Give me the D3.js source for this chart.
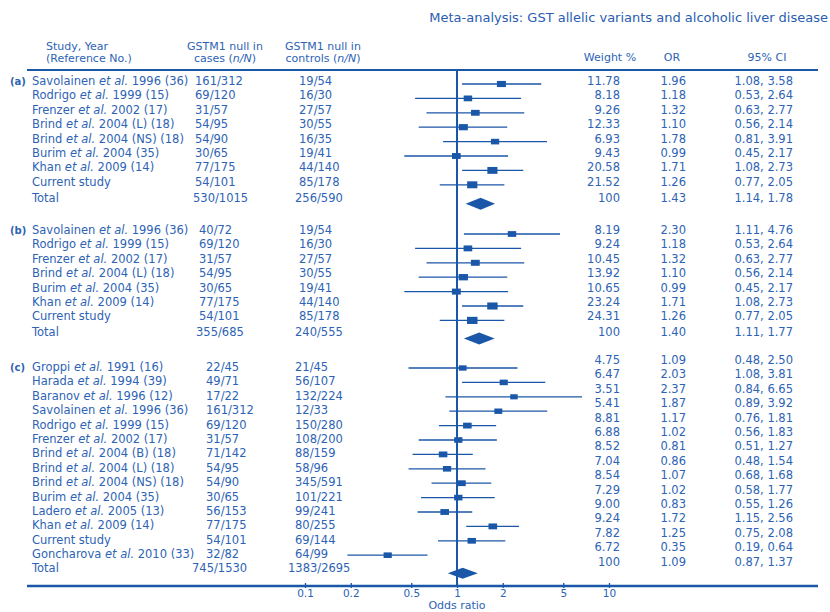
<!DOCTYPE html>
<html lang="en">
<head>
<meta charset="utf-8">
<title>Meta-analysis forest plot</title>
<style>
    body { margin: 0; background: #fff; }
    text { font-family: "DejaVu Sans", sans-serif; fill: #2d63b5; }
</style>
</head>
<body>
<div id="chart"></div>
<script src="https://d3js.org/d3.v7.min.js"></script>
<script>
// ---- data (a) ----
const studiesA = ["Savolainen et al. 1996 (36)", "Rodrigo et al. 1999 (15)", "Frenzer et al. 2002 (17)",
    "Brind et al. 2004 (L) (18)", "Brind et al. 2004 (NS) (18)", "Burim et al. 2004 (35)",
    "Khan et al. 2009 (14)", "Current study"]
const casesA = ["161/312", "69/120", "31/57", "54/95", "54/90", "30/65", "77/175", "54/101"]
const controlsA = ["19/54", "16/30", "27/57", "30/55", "16/35", "19/41", "44/140", "85/178"]
const weightA = [11.78, 8.18, 9.26, 12.33, 6.93, 9.43, 20.58, 21.52]
const orA = [1.96, 1.18, 1.32, 1.10, 1.78, 0.99, 1.71, 1.26]
const lowA = [1.08, 0.53, 0.63, 0.56, 0.81, 0.45, 1.08, 0.77]
const highA = [3.58, 2.64, 2.77, 2.14, 3.91, 2.17, 2.73, 2.05]
const totalA = ["530/1015", "256/590", 100, 1.43, 1.14, 1.78]

// ---- data (b) ----
const studiesB = ["Savolainen et al. 1996 (36)", "Rodrigo et al. 1999 (15)", "Frenzer et al. 2002 (17)",
    "Brind et al. 2004 (L) (18)", "Burim et al. 2004 (35)", "Khan et al. 2009 (14)", "Current study"]
const casesB = ["40/72", "69/120", "31/57", "54/95", "30/65", "77/175", "54/101"]
const controlsB = ["19/54", "16/30", "27/57", "30/55", "19/41", "44/140", "85/178"]
const weightB = [8.19, 9.24, 10.45, 13.92, 10.65, 23.24, 24.31]
const orB = [2.30, 1.18, 1.32, 1.10, 0.99, 1.71, 1.26]
const lowB = [1.11, 0.53, 0.63, 0.56, 0.45, 1.08, 0.77]
const highB = [4.76, 2.64, 2.77, 2.14, 2.17, 2.73, 2.05]
const totalB = ["355/685", "240/555", 100, 1.40, 1.11, 1.77]

// ---- data (c) ----
const studiesC = ["Groppi et al. 1991 (16)", "Harada et al. 1994 (39)", "Baranov et al. 1996 (12)",
    "Savolainen et al. 1996 (36)", "Rodrigo et al. 1999 (15)", "Frenzer et al. 2002 (17)",
    "Brind et al. 2004 (B) (18)", "Brind et al. 2004 (L) (18)", "Brind et al. 2004 (NS) (18)",
    "Burim et al. 2004 (35)", "Ladero et al. 2005 (13)", "Khan et al. 2009 (14)", "Current study",
    "Goncharova et al. 2010 (33)"]
const casesC = ["22/45", "49/71", "17/22", "161/312", "69/120", "31/57", "71/142", "54/95", "54/90",
    "30/65", "56/153", "77/175", "54/101", "32/82"]
const controlsC = ["21/45", "56/107", "132/224", "12/33", "150/280", "108/200", "88/159", "58/96",
    "345/591", "101/221", "99/241", "80/255", "69/144", "64/99"]
const weightC = [4.75, 6.47, 3.51, 5.41, 8.81, 6.88, 8.52, 7.04, 8.54, 7.29, 9.00, 9.24, 7.82, 6.72]
const orC = [1.09, 2.03, 2.37, 1.87, 1.17, 1.02, 0.81, 0.86, 1.07, 1.02, 0.83, 1.72, 1.25, 0.35]
const lowC = [0.48, 1.08, 0.84, 0.89, 0.76, 0.56, 0.51, 0.48, 0.68, 0.58, 0.55, 1.15, 0.75, 0.19]
const highC = [2.50, 3.81, 6.65, 3.92, 1.81, 1.83, 1.27, 1.54, 1.68, 1.77, 1.26, 2.56, 2.08, 0.64]
const totalC = ["745/1530", "1383/2695", 100, 1.09, 0.87, 1.37]

const axisTicks = [0.1, 0.2, 0.5, 1, 2, 5, 10]

// layout per section (pixel positions, not data)
const sections = [
    { label: "(a)", studies: studiesA, cases: casesA, controls: controlsA, weight: weightA, or: orA, low: lowA, high: highA, total: totalA,
      top: 84, gap: 19, dyL: -3, dyR: -3, dyTL: -6, dyTR: -6, casesX: 195, ctrlX: 299, totCasesX: 193, totCtrlX: 295, dh: 12 },
    { label: "(b)", studies: studiesB, cases: casesB, controls: controlsB, weight: weightB, or: orB, low: lowB, high: highB, total: totalB,
      top: 234, gap: 18, dyL: -4, dyR: -4, dyTL: -6, dyTR: -6, casesX: 199, ctrlX: 299, totCasesX: 196, totCtrlX: 295, dh: 12 },
    { label: "(c)", studies: studiesC, cases: casesC, controls: controlsC, weight: weightC, or: orC, low: lowC, high: highC, total: totalC,
      top: 368, gap: 18, dyL: -1, dyR: -8, dyTL: -5, dyTR: -11, casesX: 206, ctrlX: 295, totCasesX: 192, totCtrlX: 288, dh: 11 }
]

const width = 830, height = 612
const rowStep = 14.4
const markColor = "#1b57a9"
const textColor = "#2d63b5"

const svg = d3.select("#chart").append("svg")
    .attr("width", width)
    .attr("height", height)

const x = d3.scaleLog().domain([0.1, 10]).range([305, 609])
const boxW = d3.scaleSqrt().domain([3.5, 24.3]).range([7.5, 10.5])

// title
svg.append("text")
    .attr("x", 828).attr("y", 17).attr("dy", "0.35em")
    .attr("text-anchor", "end")
    .style("font-size", "13px")
    .style("fill", "#2a5db0")
    .text("Meta-analysis: GST allelic variants and alcoholic liver disease")

// column headers
const hdr = svg.append("g").style("font-size", "11px")
hdr.append("text").attr("x", 46).attr("y", 46).attr("dy", "0.35em").text("Study, Year")
hdr.append("text").attr("x", 46).attr("y", 58).attr("dy", "0.35em").text("(Reference No.)")
hdr.append("text").attr("x", 225).attr("y", 46).attr("dy", "0.35em").attr("text-anchor", "middle").text("GSTM1 null in")
const hc = hdr.append("text").attr("x", 225).attr("y", 58).attr("dy", "0.35em").attr("text-anchor", "middle")
hc.append("tspan").text("cases (")
hc.append("tspan").style("font-style", "italic").text("n/N")
hc.append("tspan").text(")")
hdr.append("text").attr("x", 323).attr("y", 46).attr("dy", "0.35em").attr("text-anchor", "middle").text("GSTM1 null in")
const hk = hdr.append("text").attr("x", 323).attr("y", 58).attr("dy", "0.35em").attr("text-anchor", "middle")
hk.append("tspan").text("controls (")
hk.append("tspan").style("font-style", "italic").text("n/N")
hk.append("tspan").text(")")
hdr.append("text").attr("x", 610).attr("y", 57).attr("dy", "0.35em").attr("text-anchor", "middle").text("Weight %")
hdr.append("text").attr("x", 672).attr("y", 57).attr("dy", "0.35em").attr("text-anchor", "middle").text("OR")
hdr.append("text").attr("x", 767).attr("y", 57).attr("dy", "0.35em").attr("text-anchor", "middle").text("95% CI")

// header rule, reference line
svg.append("line").attr("x1", 27).attr("x2", 818).attr("y1", 70).attr("y2", 70)
    .attr("stroke", markColor).attr("stroke-width", 2)
svg.append("line").attr("x1", x(1)).attr("x2", x(1)).attr("y1", 70).attr("y2", 586)
    .attr("stroke", markColor).attr("stroke-width", 2)

// study name with italic "et al."
function nameText(sel, name) {
    const parts = name.split("et al.")
    sel.append("tspan").text(parts[0])
    if (parts.length > 1) {
        sel.append("tspan").style("font-style", "italic").text("et al.")
        sel.append("tspan").text(parts[1])
    }
}

const fmt2 = d3.format(".2f")

sections.forEach(s => {
    const g = svg.append("g").style("font-size", "11.5px")
    const rowY = i => s.top + i * rowStep
    const totY = rowY(s.studies.length - 1) + s.gap

    g.append("text")
        .attr("x", 10).attr("y", rowY(0) + s.dyL).attr("dy", "0.35em")
        .style("font-size", "10px").style("font-weight", "bold")
        .text(s.label)

    s.studies.forEach((name, i) => {
        const y = rowY(i)
        nameText(g.append("text").attr("x", 32).attr("y", y + s.dyL).attr("dy", "0.35em"), name)
        g.append("text").attr("x", s.casesX).attr("y", y + s.dyL).attr("dy", "0.35em").text(s.cases[i])
        g.append("text").attr("x", s.ctrlX).attr("y", y + s.dyL).attr("dy", "0.35em").text(s.controls[i])

        g.append("text").attr("x", 620).attr("y", y + s.dyR).attr("dy", "0.35em").attr("text-anchor", "end").text(fmt2(s.weight[i]))
        g.append("text").attr("x", 686).attr("y", y + s.dyR).attr("dy", "0.35em").attr("text-anchor", "end").text(fmt2(s.or[i]))
        g.append("text").attr("x", 793).attr("y", y + s.dyR).attr("dy", "0.35em").attr("text-anchor", "end")
            .text(fmt2(s.low[i]) + ", " + fmt2(s.high[i]))

        g.append("line")
            .attr("x1", x(s.low[i])).attr("x2", x(s.high[i]))
            .attr("y1", y).attr("y2", y)
            .attr("stroke", markColor).attr("stroke-width", 1.3)
        const w = boxW(s.weight[i]), h = w * 0.68
        g.append("rect")
            .attr("x", x(s.or[i]) - w / 2).attr("y", y - h / 2)
            .attr("width", w).attr("height", h)
            .attr("fill", markColor)
    })

    // total row
    const t = s.total
    g.append("text").attr("x", 32).attr("y", totY + s.dyTL).attr("dy", "0.35em").text("Total")
    g.append("text").attr("x", s.totCasesX).attr("y", totY + s.dyTL).attr("dy", "0.35em").text(t[0])
    g.append("text").attr("x", s.totCtrlX).attr("y", totY + s.dyTL).attr("dy", "0.35em").text(t[1])
    g.append("text").attr("x", 620).attr("y", totY + s.dyTR).attr("dy", "0.35em").attr("text-anchor", "end").text(t[2])
    g.append("text").attr("x", 686).attr("y", totY + s.dyTR).attr("dy", "0.35em").attr("text-anchor", "end").text(fmt2(t[3]))
    g.append("text").attr("x", 793).attr("y", totY + s.dyTR).attr("dy", "0.35em").attr("text-anchor", "end")
        .text(fmt2(t[4]) + ", " + fmt2(t[5]))

    const hh = s.dh / 2
    g.append("path")
        .attr("d", `M${x(t[4])},${totY} L${x(t[3])},${totY - hh} L${x(t[5])},${totY} L${x(t[3])},${totY + hh} Z`)
        .attr("fill", markColor)
})

// x axis
svg.append("line").attr("x1", 27).attr("x2", 818).attr("y1", 586).attr("y2", 586)
    .attr("stroke", markColor).attr("stroke-width", 2.5)

const axis = svg.append("g")
    .attr("transform", "translate(0,586)")
    .call(d3.axisBottom(x).tickValues(axisTicks).tickFormat(d3.format("")).tickSize(3).tickPadding(1).tickSizeOuter(0))
axis.select(".domain").remove()
axis.selectAll(".tick line").attr("y1", -3).attr("y2", 2).attr("stroke", markColor).attr("stroke-width", 1.3)
axis.selectAll(".tick text").style("font-size", "10.5px").style("font-family", "DejaVu Sans, sans-serif").attr("fill", textColor)

svg.append("text")
    .attr("x", x(1)).attr("y", 605).attr("dy", "0.35em")
    .attr("text-anchor", "middle")
    .style("font-size", "11px")
    .text("Odds ratio")
</script>
</body>
</html>
